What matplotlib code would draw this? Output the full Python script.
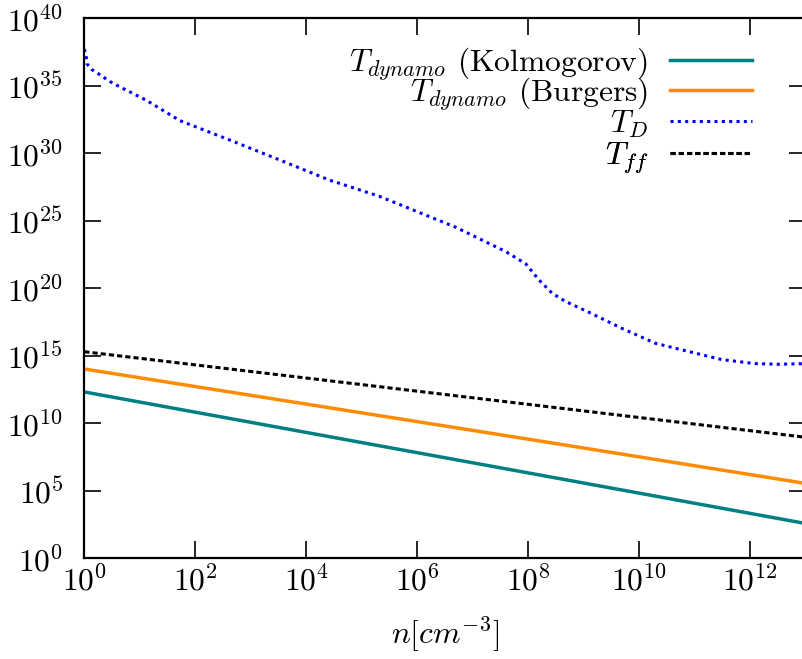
import numpy as np
import matplotlib
matplotlib.use('Agg')
import matplotlib.pyplot as plt

plt.rcParams['font.family'] = 'serif'
plt.rcParams['font.serif'] = ['cmr10', 'DejaVu Serif']
plt.rcParams['mathtext.fontset'] = 'cm'
plt.rcParams['axes.formatter.use_mathtext'] = True

# values (log10 of n and of the time scales)
n_line = [0.0, 4.0, 8.0, 13.0]
kolmogorov = [12.3, 9.3, 6.3, 2.55]
burgers = [14.0, 11.4, 8.8, 5.52]
t_ff = [15.28, 13.33, 11.38, 8.94]

n_td = [0.0, 0.03, 0.05, 0.13, 0.28, 0.46, 0.64, 1.12, 1.72, 2.62, 3.51, 4.41,
        5.31, 5.91, 6.39, 6.69, 6.99, 7.59, 7.95, 8.19, 8.43, 8.67, 9.09, 9.69,
        10.29, 10.88, 11.48, 12.08, 12.5, 13.0]
t_d = [37.7, 37.26, 36.6, 36.2, 35.8, 35.3, 34.9, 33.9, 32.4, 30.96, 29.5, 28.0,
       26.8, 25.8, 25.0, 24.5, 23.9, 22.7, 21.8, 20.6, 19.6, 19.0, 18.2, 17.0,
       15.9, 15.3, 14.7, 14.4, 14.35, 14.4]

labels = [r'$T_{dynamo}$ (Kolmogorov)', r'$T_{dynamo}$ (Burgers)', r'$T_D$', r'$T_{ff}$']
# legend rows (pixel y of each entry, tuned so the key lines land where the reference has them)
row_y = [64, 94, 124, 158]

fig = plt.figure(figsize=(8.03, 6.59), dpi=100)
ax = fig.add_axes([84.3/803, (659-558)/659, (806-84.3)/803, (558-18)/659])

p = lambda v: 10.0**np.asarray(v)
h1, = ax.plot(p(n_line), p(kolmogorov), color='#008080', lw=2.5, label=labels[0])
h2, = ax.plot(p(n_line), p(burgers), color='#ff8c00', lw=2.5, label=labels[1])
h3, = ax.plot(p(n_td), p(t_d), color='#0000ff', lw=2.2, linestyle=(0, (1, 1.4)), label=labels[2])
h4, = ax.plot(p(n_line), p(t_ff), color='black', lw=2.2, linestyle=(0, (1.7, 1.0)), label=labels[3])

ax.set_xscale('log')
ax.set_yscale('log')
ax.set_xlim(1, 1e13)
ax.set_ylim(1, 1e40)
ax.set_xticks([10.0**k for k in range(0, 13, 2)])
ax.set_yticks([10.0**k for k in range(0, 41, 5)])
ax.minorticks_off()
ax.tick_params(direction='in', length=12, width=1.2, top=True, right=True, labelsize=22.7)
ax.tick_params(axis='x', pad=5)
ax.tick_params(axis='y', pad=15)
for s in ax.spines.values():
    s.set_linewidth(1.6)

ax.set_xlabel(r'$n[cm^{-3}]$', fontsize=22.7, labelpad=13)

# one legend per row so the rows are evenly spaced like the reference
for h, y in zip([h1, h2, h3, h4], row_y):
    leg = ax.legend(handles=[h], loc='center right', bbox_to_anchor=(0.925, (558 - y) / 540),
                    frameon=False, markerfirst=False, fontsize=22.7, handlelength=2.6,
                    handletextpad=0.7, borderpad=0, borderaxespad=0)
    ax.add_artist(leg)

fig.savefig('out.png', dpi=100)
